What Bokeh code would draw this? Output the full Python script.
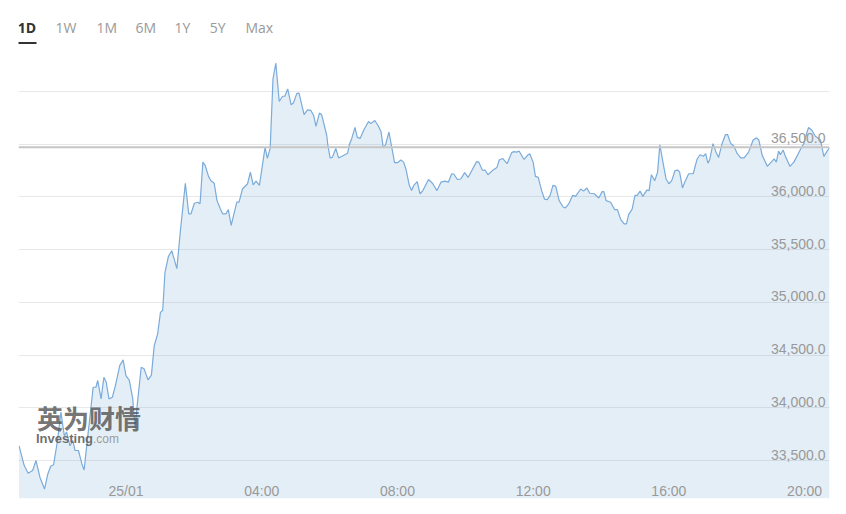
from bokeh.plotting import figure
from bokeh.models import Range1d, Label, Span, Grid, FixedTicker, BoxAnnotation
from bokeh.embed import file_html
from bokeh.resources import INLINE
from bokeh.core.properties import value

# ---- data (minutes relative to 25/01 00:00, index level) ----
minutes = [
    -189, -180, -173, -165, -159, -152, -144, -138, -133, -128, -121, -115, -109, -105, -99, -94,
    -90, -84, -78, -74, -69, -65, -58, -53, -50, -44, -39, -35, -30, -24, -18, -11, -5,
    0, 6, 12, 16, 21, 27, 32, 39, 45, 50, 56, 61, 65, 69, 75, 81, 90, 96, 100, 105, 111,
    115, 121, 127, 131, 136, 140, 146, 150, 156, 161, 167, 171, 177, 181, 186, 191, 196,
    200, 206, 215, 220, 225, 230, 236, 246, 250, 255, 260, 265, 271, 277, 281, 286, 292,
    296, 302, 306, 315, 321, 327, 332, 336, 342, 346, 355, 357, 361, 365, 371, 376, 392,
    395, 399, 405, 409, 414, 421, 429, 433, 440, 446, 451, 455, 459, 465, 475, 480, 486,
    491, 495, 501, 505, 509, 515, 520, 525, 535, 542, 550, 557, 564, 570, 576, 580, 586,
    592, 599, 605, 613, 620, 624, 630, 635, 640, 648, 656, 660, 666, 674, 682, 686, 691,
    695, 704, 710, 714, 720, 724, 729, 735, 740, 745, 750, 755, 760, 766, 773, 777, 783,
    790, 795, 804, 809, 815, 820, 828, 836, 842, 845, 849, 857, 864, 869, 875, 881, 885,
    889, 895, 900, 904, 909, 914, 921, 925, 929, 935, 940, 944, 949, 955, 960, 965, 971,
    976, 979, 984, 988, 995, 1003, 1010, 1015, 1021, 1025, 1029, 1032, 1038, 1044, 1048,
    1054, 1060, 1064, 1069, 1075, 1081, 1087, 1093, 1101, 1109, 1115, 1119, 1125, 1134,
    1141, 1146, 1150, 1154, 1157, 1162, 1166, 1174, 1181, 1193, 1199, 1202, 1207, 1213,
    1219, 1228, 1234, 1241, 1244,
]
prices = [
    33640, 33455, 33380, 33405, 33500, 33340, 33230, 33375, 33445, 33460, 33690, 33960, 33735, 33770, 33640, 33690,
    33595, 33595, 33470, 33410, 33660, 33850, 34195, 34195, 34260, 34085, 34290, 34245, 34085, 34100, 34225, 34400, 34455,
    34305, 34260, 34085, 33810, 34085, 34385, 34370, 34265, 34310, 34590, 34700, 34905, 34925, 35285, 35435, 35490, 35320, 35665, 35870, 36130, 35840,
    35840, 35940, 35950, 35935, 36330, 36300, 36195, 36155, 36130, 35965, 35885, 35840, 35840, 35880, 35730, 35840, 35950,
    35950, 36075, 36125, 36235, 36115, 36150, 36110, 36470, 36365, 36460, 37120, 37270, 36905, 36955, 36955, 37025, 36875,
    36890, 36980, 36985, 36780, 36825, 36820, 36770, 36670, 36795, 36780, 36585, 36490, 36370, 36375, 36460, 36370, 36415,
    36495, 36550, 36660, 36565, 36555, 36640, 36715, 36695, 36725, 36675, 36620, 36465, 36495, 36615, 36325, 36325, 36350,
    36330, 36265, 36110, 36060, 36110, 36145, 36030, 36060, 36165, 36130, 36060, 36140, 36150, 36140, 36220, 36215, 36165,
    36170, 36230, 36185, 36265, 36335, 36330, 36255, 36255, 36210, 36250, 36280, 36350, 36365, 36315, 36420, 36430, 36425,
    36435, 36355, 36395, 36410, 36330, 36195, 36185, 36060, 35980, 35975, 36015, 36110, 36100, 35965, 35905, 35895, 35935,
    36015, 36005, 36075, 36055, 36085, 36035, 36030, 35990, 36050, 36050, 35965, 35950, 35880, 35880, 35785, 35745, 35745,
    35835, 35885, 36015, 36015, 36055, 36005, 36065, 36060, 36210, 36155, 36235, 36495, 36345, 36170, 36125, 36155, 36250,
    36255, 36235, 36085, 36140, 36220, 36220, 36360, 36400, 36385, 36410, 36320, 36350, 36505, 36415, 36375,
    36505, 36590, 36590, 36510, 36480, 36410, 36370, 36370, 36425, 36540, 36560, 36540, 36395, 36290,
    36330, 36360, 36330, 36435, 36400, 36445, 36385, 36290, 36330, 36455, 36510, 36575, 36660, 36630,
    36575, 36540, 36385, 36445, 36465,
]
prev_close = 36470
grid_values = [33500, 34000, 34500, 35000, 35500, 36000, 36500, 37000]
label_values = [33500, 34000, 34500, 35000, 35500, 36000, 36500]
x_tick_minutes = [0, 240, 480, 720, 960, 1200]
x_tick_labels = ["25/01", "04:00", "08:00", "12:00", "16:00", "20:00"]
range_buttons = ["1D", "1W", "1M", "6M", "1Y", "5Y", "Max"]
active_button = "1D"

# ---- figure ----
x_start, x_end = -190, 1244
y_start, y_end = 33140, 37768
y_chart_bottom = y_start  # area fill baseline

p = figure(
    frame_width=811, frame_height=488,
    x_range=Range1d(x_start, x_end), y_range=Range1d(y_start, y_end),
    x_axis_location=None, y_axis_location=None,
    toolbar_location=None, output_backend="svg",
    min_border_left=18, min_border_right=9, min_border_top=10, min_border_bottom=8,
    background_fill_color="white", border_fill_color="white", outline_line_color=None,
)
p.grid.visible = False

grid = Grid(dimension=1, ticker=FixedTicker(ticks=grid_values),
            grid_line_color="#e8e8e8", grid_line_width=1)
p.add_layout(grid)

p.varea(x=minutes, y1=y_chart_bottom, y2=prices, fill_color="#7aa8d0", fill_alpha=0.2)

# watermark
p.add_layout(Label(x=18.5, y=81, x_units="screen", y_units="screen", text="英为财情",
                   text_font="Noto Sans CJK SC", text_font_style="bold", text_font_size="26px",
                   text_color="#505050", text_alpha=0.8, text_baseline="middle"))
p.add_layout(Label(x=17.5, y=60, x_units="screen", y_units="screen", text="Investing",
                   text_font="Liberation Sans", text_font_style="bold", text_font_size="13px",
                   text_color="#555555", text_alpha=0.85, text_baseline="middle"))
p.add_layout(Label(x=74.5, y=60, x_units="screen", y_units="screen", text=".com",
                   text_font="Liberation Sans", text_font_size="12px",
                   text_color="#8a8a8a", text_alpha=0.85, text_baseline="middle"))

p.line(minutes, prices, line_color="#7aabda", line_width=1.2)

p.add_layout(Span(location=prev_close, dimension="width", line_color="#c6c6c6", line_width=2))

# value labels (right, inside)
p.text(x=[x_end] * len(label_values), y=label_values,
       text=[f"{v:,.1f}" for v in label_values],
       text_align="right", text_baseline="alphabetic", x_offset=-4, y_offset=-6,
       text_font=value("Liberation Sans"), text_font_size="14px", text_color="#999999")

# time labels (bottom, inside)
p.text(x=x_tick_minutes, y=[y_start] * len(x_tick_minutes), text=x_tick_labels,
       text_align="center", text_baseline="alphabetic", y_offset=-8,
       text_font=value("Liberation Sans"), text_font_size="14px", text_color="#999999")

# range buttons (top strip)
btn_x = [-0.7, 37, 78, 117, 156, 191.3, 227]
for label, bx in zip(range_buttons, btn_x):
    active = label == active_button
    p.add_layout(Label(x=bx, y=471, x_units="screen", y_units="screen", text=label,
                       text_font="Open Sans", text_font_size="14px",
                       text_font_style="bold" if active else "normal",
                       text_color="#333333" if active else "#999999",
                       text_baseline="alphabetic"))
p.add_layout(BoxAnnotation(left=-1, right=18, bottom=454.5, top=456.5,
                           left_units="screen", right_units="screen",
                           bottom_units="screen", top_units="screen",
                           fill_color="#333333", fill_alpha=1, line_color=None))

open("out.html", "w").write(file_html(p, INLINE))
